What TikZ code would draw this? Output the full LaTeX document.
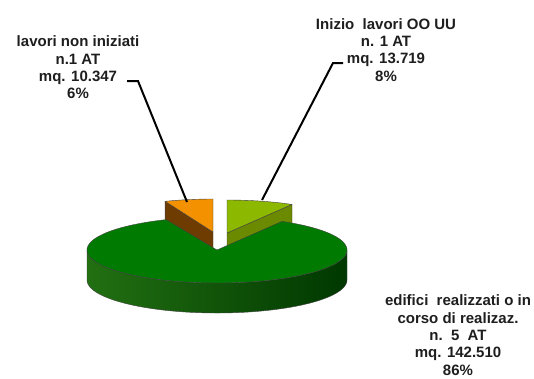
\documentclass[tikz,border=0pt]{standalone}
\usepackage{fontspec}
\setmainfont{Liberation Sans}
\definecolor{topgreen}{RGB}{0,122,0}
\definecolor{sidegreenL}{RGB}{34,112,18}
\definecolor{sidegreenR}{RGB}{0,56,0}
\definecolor{toporange}{RGB}{243,145,0}
\definecolor{sidebrown}{RGB}{110,60,0}
\definecolor{toplime}{RGB}{141,184,0}
\definecolor{sideolive}{RGB}{107,138,0}
\definecolor{textgray}{RGB}{30,30,30}
\tikzset{
  edge/.style={draw=black!75,line width=0.4pt,line join=round},
  leader/.style={draw=black,line width=2pt},
  lbl/.style={font=\fontsize{15}{17.3}\selectfont\bfseries,text=textgray,align=center,inner sep=0pt,anchor=base}
}
\begin{document}
\begin{tikzpicture}[x=1pt,y=-1pt]
\useasboundingbox (0,0) rectangle (534,378);
% exploded orange slice
\coordinate (oa) at (213,232);
\coordinate (oc) at ({213+130*cos(111.6)},{232-33*sin(111.6)});
\coordinate (oab) at (213,262);
\coordinate (ocb) at ({213+130*cos(111.6)},{262-33*sin(111.6)});
\fill[sidebrown,edge] (oa) -- (oc) -- (ocb) -- (oab) -- cycle;
\fill[toporange,edge] (oa) -- plot[domain=90:111.6,samples=20] ({213+130*cos(\x)},{232-33*sin(\x)}) -- cycle;
% exploded lime slice
\coordinate (la) at (227,233);
\coordinate (lc) at ({227+130*cos(60)},{233-33*sin(60)});
\coordinate (lab) at (227,263);
\coordinate (lcb) at ({227+130*cos(60)},{263-33*sin(60)});
\fill[sideolive,edge] (la) -- (lc) -- (lcb) -- (lab) -- cycle;
\fill[toplime,edge] (la) -- plot[domain=60:90,samples=20] ({227+130*cos(\x)},{233-33*sin(\x)}) -- cycle;
% big green slice: side
\shade[left color=sidegreenL,right color=sidegreenR]
  plot[domain=180:360,samples=80] ({217+130*cos(\x)},{250-33*sin(\x)})
  -- plot[domain=360:180,samples=80] ({217+130*cos(\x)},{280-33*sin(\x)}) -- cycle;
\draw[edge] plot[domain=180:360,samples=80] ({217+130*cos(\x)},{250-33*sin(\x)})
  -- plot[domain=360:180,samples=80] ({217+130*cos(\x)},{280-33*sin(\x)}) -- cycle;
% big green slice: top
\coordinate (ga) at (217,250);
\fill[topgreen,edge] (ga) -- plot[domain=113:420,samples=120] ({217+130*cos(\x)},{250-33*sin(\x)}) -- cycle;
% labels (anchor = baseline of last line)
\node[lbl] (lnon) at (78,98.7) {lavori\ non\ iniziati\\n.1 AT\\mq. 10.347\\6\%};
\node[lbl] (linizio) at (386,81) {Inizio\ \ lavori\ OO\ UU\\n. 1 AT\\mq. 13.719\\8\%};
\node[lbl] (ledif) at (458,375) {edifici\ \ realizzati\ o\ in\\corso di realizaz.\\n.\ \ 5\ \ AT\\mq. 142.510\\86\%};
% leader lines
\coordinate (k1a) at (127,81);
\coordinate (k1b) at (138,81);
\coordinate (k1c) at (187,202);
\draw[leader] (k1a) -- (k1b) -- (k1c);
\coordinate (k2a) at (343,63);
\coordinate (k2b) at (333,63);
\coordinate (k2c) at (262,200);
\draw[leader] (k2a) -- (k2b) -- (k2c);
\end{tikzpicture}
\end{document}
